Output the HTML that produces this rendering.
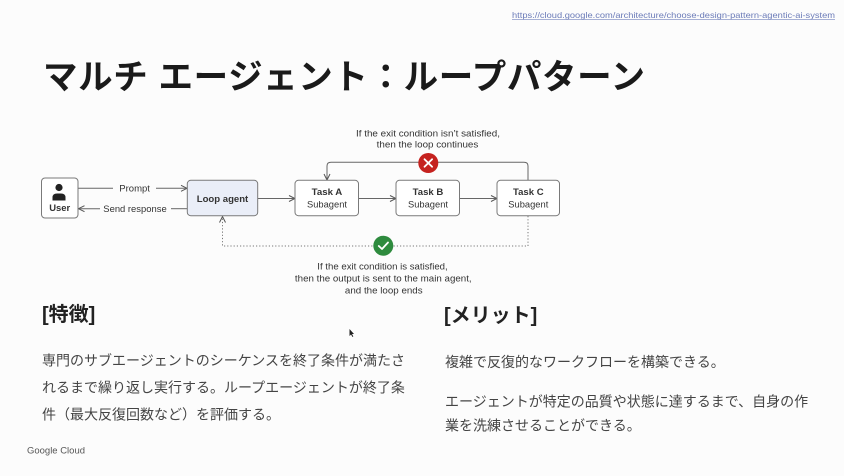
<!DOCTYPE html>
<html><head><meta charset="utf-8"><style>
html,body{margin:0;padding:0;background:#fcfcfc;}
svg{display:block;}
</style></head><body>
<svg width="844" height="476" viewBox="0 0 844 476" xmlns="http://www.w3.org/2000/svg">
<rect x="0" y="0" width="844" height="476" fill="#fcfcfc"/>
<defs>
<marker id="ah" viewBox="0 0 8 8" refX="7" refY="4" markerWidth="8" markerHeight="8" markerUnits="userSpaceOnUse" orient="auto">
<path d="M1,1 L7,4 L1,7" fill="none" stroke="#555" stroke-width="1"/>
</marker>
</defs>
<!-- URL -->
<text x="512" y="18" font-family="Liberation Sans, sans-serif" font-size="8.5" fill="#6b7bb8" textLength="323" lengthAdjust="spacingAndGlyphs">https://cloud.google.com/architecture/choose-design-pattern-agentic-ai-system</text>
<line x1="512" y1="19.5" x2="835" y2="19.5" stroke="#8a97c8" stroke-width="0.7"/>
<!-- Title -->
<text x="43" y="89" font-family="Liberation Sans, 'Noto Sans CJK JP', sans-serif" font-weight="700" font-size="34.5" fill="#1a1a1a" textLength="602" lengthAdjust="spacing">マルチ エージェント：ループパターン</text>

<!-- Diagram lines -->
<g fill="none" stroke="#666" stroke-width="1">
<line x1="78" y1="188.3" x2="113" y2="188.3"/>
<line x1="156" y1="188.3" x2="187" y2="188.3" marker-end="url(#ah)"/>
<line x1="187" y1="208.7" x2="171" y2="208.7"/>
<line x1="100" y1="208.7" x2="78.5" y2="208.7" marker-end="url(#ah)"/>
<line x1="258" y1="198.5" x2="295" y2="198.5" marker-end="url(#ah)"/>
<line x1="358.5" y1="198.5" x2="396" y2="198.5" marker-end="url(#ah)"/>
<line x1="459.5" y1="198.5" x2="497" y2="198.5" marker-end="url(#ah)"/>
<path d="M528,180 L528,166 Q528,162.3 524,162.3 L331,162.3 Q327,162.3 327,166 L327,180" marker-end="url(#ah)"/>
<path d="M528,216 L528,246 L222.5,246 L222.5,216.5" stroke-dasharray="1.2,2" stroke="#777" marker-end="url(#ah)"/>
</g>

<!-- Boxes -->
<g stroke="#7a7a7a" stroke-width="1">
<rect x="41.5" y="178" width="36.5" height="40" rx="3.5" fill="#fff"/>
<rect x="187.3" y="180.3" width="70.4" height="35.4" rx="3.5" fill="#eaeef8"/>
<rect x="295" y="180.3" width="63.5" height="35.4" rx="3.5" fill="#fff"/>
<rect x="396" y="180.3" width="63.5" height="35.4" rx="3.5" fill="#fff"/>
<rect x="497" y="180.3" width="62.5" height="35.4" rx="3.5" fill="#fff"/>
</g>
<!-- User icon -->
<circle cx="59" cy="187.5" r="3.6" fill="#222"/>
<path d="M52.5,200.5 L52.5,197.5 Q52.5,193.5 57,193.5 L61,193.5 Q65.5,193.5 65.5,197.5 L65.5,200.5 Z" fill="#222"/>

<g font-family="Liberation Sans, sans-serif" fill="#333">
<text x="59.7" y="211" font-size="9.5" font-weight="700" text-anchor="middle" textLength="21" lengthAdjust="spacingAndGlyphs">User</text>
<text x="222.5" y="202" font-size="9.5" font-weight="700" text-anchor="middle" textLength="51.5" lengthAdjust="spacingAndGlyphs">Loop agent</text>
<text x="327" y="195" font-size="9.5" font-weight="700" text-anchor="middle" textLength="30.6" lengthAdjust="spacingAndGlyphs">Task A</text>
<text x="327" y="207.5" font-size="9.5" text-anchor="middle" textLength="40" lengthAdjust="spacingAndGlyphs">Subagent</text>
<text x="428" y="195" font-size="9.5" font-weight="700" text-anchor="middle" textLength="30.6" lengthAdjust="spacingAndGlyphs">Task B</text>
<text x="428" y="207.5" font-size="9.5" text-anchor="middle" textLength="40" lengthAdjust="spacingAndGlyphs">Subagent</text>
<text x="528.3" y="195" font-size="9.5" font-weight="700" text-anchor="middle" textLength="30.6" lengthAdjust="spacingAndGlyphs">Task C</text>
<text x="528.3" y="207.5" font-size="9.5" text-anchor="middle" textLength="40" lengthAdjust="spacingAndGlyphs">Subagent</text>
<text x="134.6" y="191.6" font-size="9.5" text-anchor="middle" textLength="30.7" lengthAdjust="spacingAndGlyphs">Prompt</text>
<text x="135" y="212" font-size="9.5" text-anchor="middle" textLength="63.4" lengthAdjust="spacingAndGlyphs">Send response</text>
<text x="428" y="136.6" font-size="9.5" text-anchor="middle" textLength="144" lengthAdjust="spacingAndGlyphs">If the exit condition isn’t satisfied,</text>
<text x="427.5" y="147.6" font-size="9.5" text-anchor="middle" textLength="101.6" lengthAdjust="spacingAndGlyphs">then the loop continues</text>
<text x="382.5" y="269.3" font-size="9.5" text-anchor="middle" textLength="130.4" lengthAdjust="spacingAndGlyphs">If the exit condition is satisfied,</text>
<text x="383.3" y="281.6" font-size="9.5" text-anchor="middle" textLength="176.7" lengthAdjust="spacingAndGlyphs">then the output is sent to the main agent,</text>
<text x="383.8" y="293.6" font-size="9.5" text-anchor="middle" textLength="77.7" lengthAdjust="spacingAndGlyphs">and the loop ends</text>
</g>

<!-- Red X -->
<circle cx="428.3" cy="163" r="10" fill="#c5221f"/>
<path d="M424.5,159.2 L432.1,166.8 M432.1,159.2 L424.5,166.8" stroke="#fff" stroke-width="1.8" stroke-linecap="round"/>
<!-- Green check -->
<circle cx="383.3" cy="245.7" r="10" fill="#2e8b3e"/>
<path d="M378.8,246 L382,249 L388,242.5" fill="none" stroke="#fff" stroke-width="1.8" stroke-linecap="round" stroke-linejoin="round"/>

<!-- Cursor -->
<path d="M349.5,329 L349.5,336 L351,334.5 L352.5,337 L353.3,336.5 L352,334 L354,334 Z" fill="#222"/>

<!-- Lower sections -->
<g font-family="Liberation Sans, 'Noto Sans CJK JP', sans-serif">
<text x="42" y="321" font-size="20" font-weight="700" fill="#222">[特徴]</text>
<text x="444" y="322" font-size="20" font-weight="700" fill="#222">[メリット]</text>
<g font-size="14" fill="#444">
<text x="42" y="365.3">専門のサブエージェントのシーケンスを終了条件が満たさ</text>
<text x="42" y="392.6">れるまで繰り返し実行する。ループエージェントが終了条</text>
<text x="42" y="419.3">件（最大反復回数など）を評価する。</text>
<text x="445" y="367">複雑で反復的なワークフローを構築できる。</text>
<text x="445" y="406.3">エージェントが特定の品質や状態に達するまで、自身の作</text>
<text x="445" y="430.3">業を洗練させることができる。</text>
</g>
</g>
<text x="27" y="453.5" font-family="Liberation Sans, sans-serif" font-size="9.5" fill="#555" textLength="58" lengthAdjust="spacingAndGlyphs">Google Cloud</text>
</svg>
</body></html>
